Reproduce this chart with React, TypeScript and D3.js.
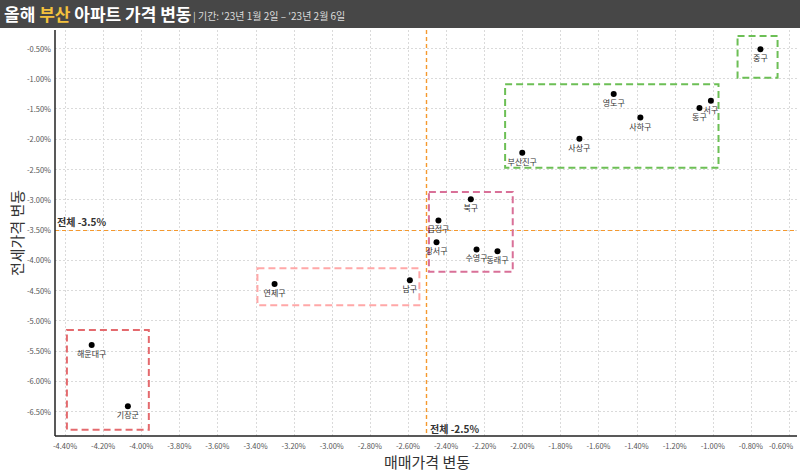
import * as d3 from "d3";

// district names and price changes (%)
const districts = [
  "중구", "서구", "동구", "영도구", "사하구", "사상구", "부산진구", "북구",
  "금정구", "강서구", "수영구", "동래구", "남구", "연제구", "해운대구", "기장군",
];
const saleChange = [
  -0.75, -1.01, -1.07, -1.52, -1.38, -1.7, -2.0, -2.27,
  -2.44, -2.45, -2.24, -2.13, -2.59, -3.3, -4.26, -4.07,
];
const jeonseChange = [
  -0.52, -1.37, -1.49, -1.26, -1.65, -2.0, -2.23, -3.0,
  -3.35, -3.71, -3.83, -3.86, -4.34, -4.4, -5.41, -6.42,
];

const xTicks = d3.range(-4.4, -0.59, 0.2);
const yTicks = d3.range(-0.5, -6.51, -0.5);

const avgSale = -2.5;
const avgJeonse = -3.5;

// grouping boxes: [x0, x1, yTop, yBottom] in data units
const groupBoxes: [number, number, number, number][] = [
  [-4.39, -3.96, -5.16, -6.81],
  [-3.39, -2.54, -4.14, -4.75],
  [-2.49, -2.05, -2.88, -4.2],
  [-2.09, -0.97, -1.1, -2.48],
  [-0.87, -0.66, -0.3, -0.99],
];
const boxColors = ["#e46a6e", "#ffa8a8", "#d97098", "#6cbf55", "#6cbf55"];

const font = "'Noto Sans CJK KR', 'Noto Sans', sans-serif";

export default function App() {
  const width = 800;
  const height = 472;
  const plot = { left: 55, right: 797, top: 30, bottom: 436 };

  const x = d3.scaleLinear().domain([-4.4, -0.6]).range([65, 789]);
  const y = d3.scaleLinear().domain([-0.5, -6.5]).range([48, 411]);

  // snap thin lines to the pixel grid
  const crisp = (v: number) => Math.round(v) + 0.5;
  const fmt = (v: number) => `${v.toFixed(2)}%`;

  return (
    <svg
      width={width}
      height={height}
      style={{ position: "absolute", left: 0, top: 0, fontFamily: font }}
    >
      <rect width={width} height={height} fill="#fff" />

      {/* title bar */}
      <rect x={0} y={0} width={width} height={28} fill="#474747" />
      <text x={4} y={21} fontSize={17} fontWeight="bold" fill="#fff">
        올해 <tspan fill="#f2c13d">부산</tspan> 아파트 가격 변동
      </text>
      <text x={193} y={20} fontSize={10} fill="#dcdcdc">
        | 기간: '23년 1월 2일 – '23년 2월 6일
      </text>

      {/* grid */}
      {xTicks.map((t) => (
        <line
          key={`gx${t}`}
          x1={crisp(x(t))}
          x2={crisp(x(t))}
          y1={plot.top}
          y2={plot.bottom}
          stroke="#dadada"
          strokeDasharray="2,2"
        />
      ))}
      {yTicks.map((t) => (
        <line
          key={`gy${t}`}
          x1={plot.left}
          x2={plot.right}
          y1={crisp(y(t))}
          y2={crisp(y(t))}
          stroke="#dadada"
          strokeDasharray="2,2"
        />
      ))}

      {/* average lines */}
      <line
        x1={plot.left}
        x2={plot.right}
        y1={crisp(y(avgJeonse))}
        y2={crisp(y(avgJeonse))}
        stroke="#f5992e"
        strokeWidth={1.2}
        strokeDasharray="4,3"
      />
      <line
        x1={crisp(x(avgSale)) - 1}
        x2={crisp(x(avgSale)) - 1}
        y1={plot.top}
        y2={plot.bottom}
        stroke="#f5992e"
        strokeWidth={1.4}
        strokeDasharray="4,3"
      />
      <text x={57} y={y(avgJeonse) - 4} fontSize={10} fontWeight="bold" fill="#333">
        전체 -3.5%
      </text>
      <text x={x(avgSale) + 3} y={plot.bottom - 3} fontSize={10} fontWeight="bold" fill="#333">
        전체 -2.5%
      </text>

      {/* group boxes */}
      {groupBoxes.map(([x0, x1, y0, y1], i) => (
        <rect
          key={`box${i}`}
          x={x(x0)}
          y={y(y0)}
          width={x(x1) - x(x0)}
          height={y(y1) - y(y0)}
          fill="none"
          stroke={boxColors[i]}
          strokeWidth={2}
          strokeDasharray="7,4"
        />
      ))}

      {/* points */}
      {districts.map((name, i) => (
        <g key={name}>
          <circle cx={x(saleChange[i])} cy={y(jeonseChange[i])} r={3} fill="#000" />
          <text
            x={x(saleChange[i])}
            y={y(jeonseChange[i]) + 12}
            fontSize={8}
            textAnchor="middle"
            fill="#333"
          >
            {name}
          </text>
        </g>
      ))}

      {/* axes */}
      <line x1={plot.left} x2={plot.left} y1={plot.top} y2={plot.bottom} stroke="#222" strokeWidth={1.5} />
      <line x1={plot.left} x2={plot.right} y1={plot.bottom} y2={plot.bottom} stroke="#222" strokeWidth={1.5} />

      {xTicks.map((t) => (
        <text
          key={`tx${t}`}
          x={Math.min(x(t), 781)}
          y={plot.bottom + 13}
          fontSize={7.5}
          textAnchor="middle"
          fill="#555"
        >
          {fmt(t)}
        </text>
      ))}
      {yTicks.map((t) => (
        <text
          key={`ty${t}`}
          x={51}
          y={y(t)}
          fontSize={7.5}
          textAnchor="end"
          dominantBaseline="central"
          fill="#555"
        >
          {fmt(t)}
        </text>
      ))}

      {/* axis titles */}
      <text x={427} y={468} fontSize={15} textAnchor="middle" fill="#333">
        매매가격 변동
      </text>
      <text
        transform={`translate(23,${(plot.top + plot.bottom) / 2}) rotate(-90)`}
        fontSize={15}
        textAnchor="middle"
        fill="#333"
      >
        전세가격 변동
      </text>
    </svg>
  );
}
